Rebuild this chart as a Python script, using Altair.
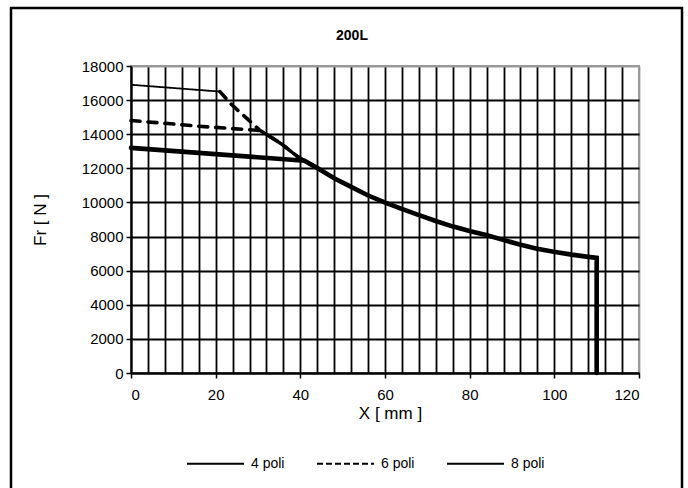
import altair as alt
import pandas as pd

FONT = "Liberation Sans"

# shared bearing-limit curve
curve_x = [44.2, 48.1, 52.0, 55.9, 60.2, 63.8, 67.7, 72.0, 75.9, 80.2, 84.1, 87.7, 91.6, 95.9, 100.2, 104.1, 108.0, 110.0, 110.0]
curve_y = [11985, 11400, 10910, 10420, 9970, 9640, 9290, 8915, 8600, 8310, 8075, 7820, 7545, 7290, 7100, 6940, 6810, 6750, 0]

# 4 poli
p4_x = [0, 41.0] + curve_x
p4_y = [13200, 12450] + curve_y

# 6 poli (two drawn pieces)
p6a_x = [0, 8, 16, 24, 30.5, 32.0, 35.6, 39.6, 41.0, 44.2]
p6a_y = [14800, 14640, 14470, 14330, 14220, 14000, 13420, 12640, 12450, 11985]
p6b_x = [21.0, 23.5, 28.0, 30.5, 32.0, 35.6, 39.6, 41.0, 44.2]
p6b_y = [16500, 15800, 14780, 14220, 14000, 13420, 12640, 12450, 11985]

# 8 poli
p8_x = [0, 21.0]
p8_y = [16900, 16500]

series = ["4 poli", "6 poli", "8 poli"]
x_ticks = list(range(0, 121, 4))
y_ticks = list(range(0, 18001, 2000))

rows = []
def add(name, seg, xs, ys):
    for i, (a, b) in enumerate(zip(xs, ys)):
        rows.append({"series": name, "seg": seg, "i": i, "x": a, "y": b})

add("6 poli", "6a", p6a_x, p6a_y)
add("6 poli", "6b", p6b_x, p6b_y)
add("8 poli", "8", p8_x, p8_y)
add("4 poli", "4", p4_x, p4_y)
df = pd.DataFrame(rows)

xaxis = alt.Axis(
    values=x_ticks,
    labelExpr="datum.value % 20 === 0 ? datum.label : ''",
    title="X  [ mm ]",
    titleX=259, titleY=40, titleBaseline="middle", titleAlign="center",
    titleFontSize=17, titleFontWeight="normal", titleFont=FONT, titleColor="black",
    labelFontSize=15, labelFont=FONT, labelColor="black", labelPadding=9,
    tickColor="black", tickSize=5, tickWidth=1.5,
    tickOpacity={"condition": {"test": "datum.value % 20 !== 0", "value": 0}, "value": 1},
    gridColor={"condition": {"test": "datum.value === 120", "value": "#999999"}, "value": "black"},
    gridWidth=1.8, domainColor="black", domainWidth=2,
)
yaxis = alt.Axis(
    values=y_ticks, format="d",
    title="Fr  [ N ]",
    titleX=-91, titleY=153.5, titleAngle=270, titleBaseline="middle", titleAlign="center",
    titleFontSize=17, titleFontWeight="normal", titleFont=FONT, titleColor="black",
    labelFontSize=15, labelFont=FONT, labelColor="black", labelPadding=3,
    tickColor="black", tickSize=5, tickWidth=1.5,
    gridColor={"condition": {"test": "datum.value === 18000", "value": "#999999"}, "value": "black"},
    gridWidth=1.8, domainColor="black", domainWidth=2,
)

X = alt.X("x:Q", scale=alt.Scale(domain=[0, 120], nice=False), axis=xaxis)
Y = alt.Y("y:Q", scale=alt.Scale(domain=[0, 18000], nice=False), axis=yaxis)

base = alt.Chart(df)

# thin 8 poli line; carries the legend for all three series
thin = base.transform_filter(alt.datum.series == "8 poli").mark_line(
    color="black", strokeWidth=1.8, clip=False
).encode(
    x=X, y=Y,
    strokeDash=alt.StrokeDash(
        "series:N",
        scale=alt.Scale(domain=series, range=[[1, 0], [6, 3], [1, 0]]),
        legend=alt.Legend(
            title=None, orient="none", direction="horizontal",
            legendX=55, legendY=368, symbolType="stroke", symbolSize=3249,
            symbolStrokeWidth=2, symbolStrokeColor="black",
            labelFontSize=14, labelFont=FONT, labelColor="black",
            labelOffset=6, columnPadding=28, padding=0,
        ),
    ),
    detail="seg:N",
    order="i:Q",
)

dashed = base.transform_filter(alt.datum.series == "6 poli").mark_line(
    color="black", strokeWidth=3.6, strokeDash=[9, 8], strokeCap="round", clip=False
).encode(x=X, y=Y, detail="seg:N", order="i:Q")

thick = base.transform_filter(alt.datum.series == "4 poli").mark_line(
    color="black", strokeWidth=4.6, strokeCap="round", clip=False
).encode(x=X, y=Y, detail="seg:N", order="i:Q")

frame = alt.Chart(alt.Data(values=[{"k": 1}])).mark_rect(
    filled=False, stroke="black", strokeWidth=2.5, clip=False
).encode(
    x=alt.value(-120), x2=alt.value(551), y=alt.value(-58), y2=alt.value(440)
)

chart = alt.layer(thin, dashed, thick, frame).properties(
    width=508, height=307,
    autosize=alt.AutoSizeParams(type="none"),
    padding={"left": 131, "top": 66, "right": 49, "bottom": 115},
    title=alt.TitleParams("200L", fontSize=14, fontWeight="bold", font=FONT,
                          anchor="middle", frame="group", dx=-33, dy=58, offset=22, color="black"),
    background="white",
).configure_view(stroke="#999999", strokeWidth=2)

chart.save("out.html", embed_options={"renderer": "svg", "actions": False})
